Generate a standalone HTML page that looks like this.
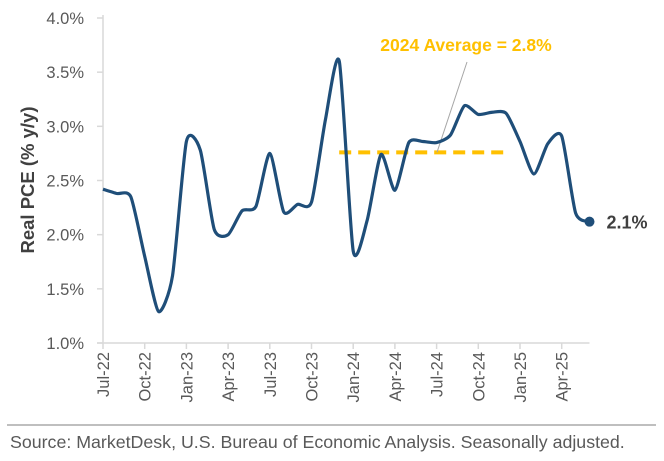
<!DOCTYPE html>
<html><head><meta charset="utf-8"><style>
body{margin:0;background:#fff;}
svg{display:block;font-family:"Liberation Sans",Arial,sans-serif;}
</style></head><body>
<svg width="664" height="461" viewBox="0 0 664 461">
<g id="axes"></g>
<g id="plot"></g>
<line x1="7" y1="425" x2="656" y2="425" stroke="#bfbfbf" stroke-width="2"/>
<text x="10" y="448" font-size="17.8" fill="#595959">Source: MarketDesk, U.S. Bureau of Economic Analysis. Seasonally adjusted.</text>
<text transform="translate(34,180) rotate(-90)" text-anchor="middle" font-size="18.5" font-weight="bold" fill="#404040">Real PCE (% y/y)</text>
</svg>
<script>
const months = ["Jul-22","Aug-22","Sep-22","Oct-22","Nov-22","Dec-22","Jan-23","Feb-23","Mar-23","Apr-23","May-23","Jun-23","Jul-23","Aug-23","Sep-23","Oct-23","Nov-23","Dec-23","Jan-24","Feb-24","Mar-24","Apr-24","May-24","Jun-24","Jul-24","Aug-24","Sep-24","Oct-24","Nov-24","Dec-24","Jan-25","Feb-25","Mar-25","Apr-25","May-25","Jun-25"];
const pce = [2.42,2.38,2.35,1.80,1.29,1.62,2.86,2.78,2.05,2.00,2.22,2.26,2.75,2.21,2.28,2.30,3.06,3.60,1.85,2.13,2.74,2.41,2.85,2.86,2.85,2.92,3.19,3.11,3.13,3.12,2.86,2.56,2.84,2.91,2.20,2.12];
const yTicks = [1.0,1.5,2.0,2.5,3.0,3.5,4.0];
const xTickLabels = ["Jul-22","Oct-22","Jan-23","Apr-23","Jul-23","Oct-23","Jan-24","Apr-24","Jul-24","Oct-24","Jan-25","Apr-25"];
const avg2024 = 2.76;
const avgStart = "Jan-24", avgEnd = "Dec-24";

const NS="http://www.w3.org/2000/svg";
const x0=103, dx=13.9, yMin=1, yMax=4, yTop=18, yBot=343;
const X=i=>x0+i*dx;
const Y=v=>yBot-(v-yMin)/(yMax-yMin)*(yBot-yTop);
function mk(tag,attrs,parent){const e=document.createElementNS(NS,tag);for(const k in attrs)e.setAttribute(k,attrs[k]);parent.appendChild(e);return e;}
const axes=document.getElementById('axes'), plot=document.getElementById('plot');

let l=mk('line',{x1:x0,y1:yTop-3,x2:x0,y2:yBot,stroke:'#d9d9d9','stroke-width':1.5},axes);


l=mk('line',{x1:x0-6,y1:yBot,x2:X(35),y2:yBot,stroke:'#d9d9d9','stroke-width':1.5},axes);



yTicks.forEach(v=>{
  const t=mk('line',{x1:x0-6,y1:Y(v),x2:x0,y2:Y(v),stroke:'#d9d9d9','stroke-width':1.5},axes);
  
  
  const tx=mk('text',{x:84,y:Y(v)+6,'text-anchor':'end','font-size':16.5,fill:'#595959'},axes);
  tx.textContent=v.toFixed(1)+'%';
  
  
});
xTickLabels.forEach(lbl=>{
  const i=months.indexOf(lbl), x=X(i);
  const t=mk('line',{x1:x,y1:yBot,x2:x,y2:yBot+6,stroke:'#d9d9d9','stroke-width':1.5},axes);
  
  
  const tx=mk('text',{transform:`translate(${x+6},${yBot+9}) rotate(-90)`,'text-anchor':'end','font-size':16.5,fill:'#595959'},axes);
  tx.textContent=lbl;
  
  
});

const a=mk('line',{x1:X(months.indexOf(avgStart))-14,y1:Y(avg2024),x2:X(months.indexOf(avgEnd))+2,y2:Y(avg2024),stroke:'#ffc000','stroke-width':4,'stroke-dasharray':'12,7'},plot);


const ld=mk('line',{x1:467,y1:62,x2:437,y2:Y(avg2024),stroke:'#a6a6a6','stroke-width':1},plot);


const at=mk('text',{x:466,y:51,'text-anchor':'middle','font-size':17.5,'font-weight':'bold',fill:'#ffc000'},plot);
at.textContent='2024 Average = 2.8%';



const pts=pce.map((v,i)=>[X(i),Y(v)]);
let d=`M${pts[0][0]},${pts[0][1]}`;
for(let i=0;i<pts.length-1;i++){
  const p0=pts[Math.max(0,i-1)],p1=pts[i],p2=pts[i+1],p3=pts[Math.min(pts.length-1,i+2)];
  const t=1/9;
  d+=` C${p1[0]+(p2[0]-p0[0])*t},${p1[1]+(p2[1]-p0[1])*t} ${p2[0]-(p3[0]-p1[0])*t},${p2[1]-(p3[1]-p1[1])*t} ${p2[0]},${p2[1]}`;
}
const path=mk('path',{d:d,fill:'none',stroke:'#1f4e79','stroke-width':3.2,'stroke-linejoin':'round'},plot);


const last=pts[pts.length-1];
const dot=mk('circle',{cx:last[0],cy:last[1],r:5,fill:'#1f4e79'},plot);


const lt=mk('text',{x:last[0]+17,y:last[1]+7,'font-size':18,'font-weight':'bold',fill:'#404040'},plot);
lt.textContent=pce[pce.length-1].toFixed(1)+'%';


</script>
</body></html>
